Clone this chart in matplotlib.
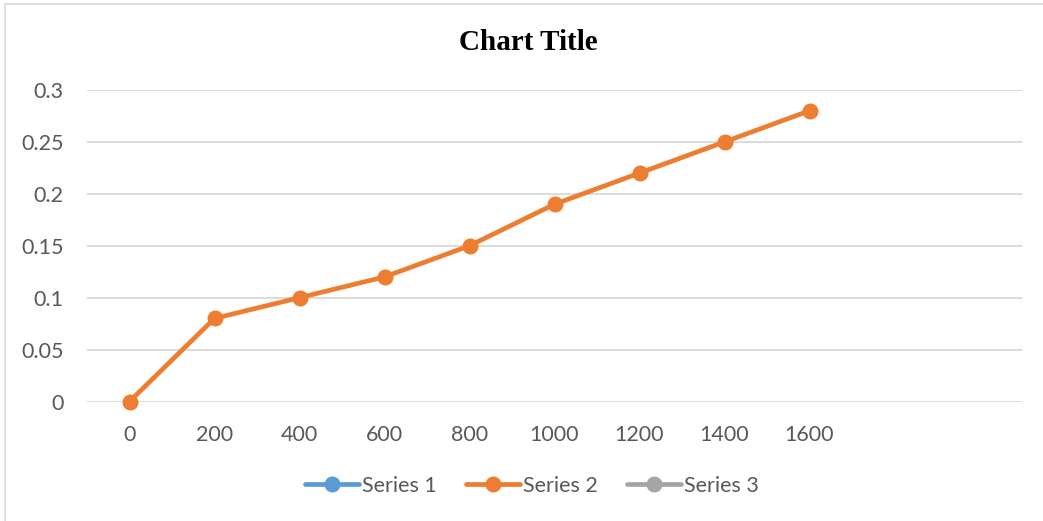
import matplotlib
matplotlib.use("Agg")
import matplotlib.pyplot as plt
from matplotlib.lines import Line2D
from matplotlib.patches import Rectangle

categories = ["0", "200", "400", "600", "800", "1000", "1200", "1400", "1600", "", ""]
series2 = [0, 0.08, 0.10, 0.12, 0.15, 0.19, 0.22, 0.25, 0.28]
yticks = [0, 0.05, 0.1, 0.15, 0.2, 0.25, 0.3]
ytick_labels = ["0", "0.05", "0.1", "0.15", "0.2", "0.25", "0.3"]
series_names = ["Series 1", "Series 2", "Series 3"]
series_colors = ["#5B9BD5", "#ED7D31", "#A5A5A5"]

W, H = 1043, 521
fig = plt.figure(figsize=(W / 100, H / 100), dpi=100)
fig.patch.set_facecolor("white")

# chart frame (left & top visible)
fig.add_artist(Rectangle((5 / W, -0.01), 1.05, 1 - 4 / H + 0.01, transform=fig.transFigure,
                         fill=False, edgecolor="#D9D9D9", linewidth=1.2))

ax = fig.add_axes([87 / W, 1 - 401.5 / H, (1022 - 87) / W, (401.5 - 90) / H])
ax.set_xlim(-0.5, len(categories) - 0.5)
ax.set_ylim(0, 0.3)
for s in ax.spines.values():
    s.set_visible(False)
ax.set_yticks(yticks)
ax.set_yticklabels(ytick_labels)
ax.set_xticks(range(len(categories)))
ax.set_xticklabels(categories)
ax.tick_params(axis="both", length=0, labelsize=15.5, labelcolor="#595959")
ax.tick_params(axis="y", pad=17)
ax.tick_params(axis="x", pad=17)
for lab in ax.get_xticklabels() + ax.get_yticklabels():
    lab.set_fontfamily("Lato")
ax.grid(axis="y", color="#D9D9D9", linewidth=1.3)
ax.set_axisbelow(True)

ax.plot(range(len(series2)), series2, color=series_colors[1], linewidth=3.4,
        marker="o", markersize=10.5, solid_capstyle="round", zorder=3, clip_on=False)

fig.text(528 / W, 1 - 43 / H, "Chart Title", ha="center", va="center",
         fontsize=21, fontweight="bold", family="Liberation Serif", color="black")

handles = [Line2D([0], [0], color=c, linewidth=3.4, marker="o", markersize=10.5,
                  solid_capstyle="round") for c in series_colors]
leg = fig.legend(handles, series_names, loc="center", bbox_to_anchor=(532 / W, 1 - 486 / H),
                 ncol=3, frameon=False, handlelength=2.5, columnspacing=1.35, handletextpad=0.15,
                 prop={"family": "Lato", "size": 15.5})
for t in leg.get_texts():
    t.set_color("#595959")

fig.savefig("out.png", dpi=100, facecolor="white")
